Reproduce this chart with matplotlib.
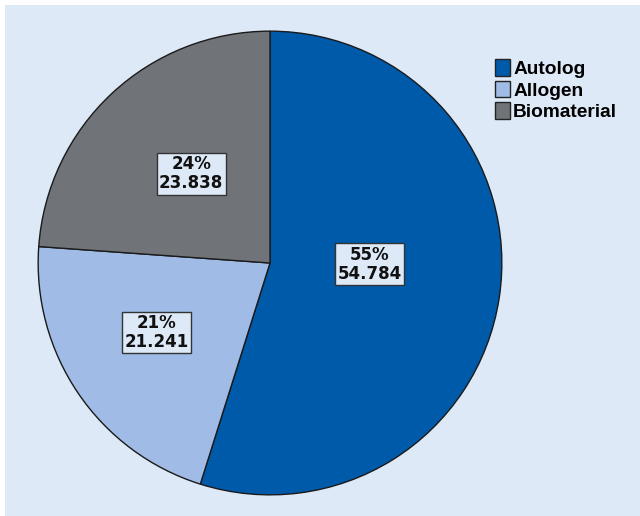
import matplotlib
matplotlib.use("Agg")
import matplotlib.pyplot as plt
from matplotlib.patches import Rectangle, Patch

categories = ["Autolog", "Allogen", "Biomaterial"]
values = [54.784, 21.241, 23.838]
pct_labels = ["55%", "21%", "24%"]
value_labels = ["54.784", "21.241", "23.838"]
colors = ["#005aaa", "#9fbbe6", "#707479"]
label_pos = [(0.43, -0.005), (-0.49, -0.30), (-0.34, 0.385)]

W, H = 640, 516
fig = plt.figure(figsize=(W / 100, H / 100), dpi=100, facecolor="white")
bg = Rectangle((5 / W, 0), 1 - 5 / W, 1 - 5 / H, transform=fig.transFigure,
               facecolor="#dde9f7", edgecolor="none", zorder=-10)
fig.patches.append(bg)

cx, cy, r = 270, 263, 233
ax = fig.add_axes([(cx - r) / W, (H - cy - r) / H, 2 * r / W, 2 * r / H])
ax.set_zorder(5)
ax.set_facecolor("none")
ax.pie(values, colors=colors, startangle=90, counterclock=False, radius=1,
       wedgeprops=dict(edgecolor="#1a1a1a", linewidth=1.0))
ax.set_xlim(-1.005, 1.005)
ax.set_ylim(-1.005, 1.005)
ax.set_aspect("equal")
ax.axis("off")

for (x, y), p, v in zip(label_pos, pct_labels, value_labels):
    ax.text(x, y, p + "\n" + v, ha="center", va="center", fontsize=12,
            fontweight="bold", family="DejaVu Sans", linespacing=1.05,
            color="#111111",
            bbox=dict(boxstyle="square,pad=0.15", facecolor="#dde9f7",
                      edgecolor="#333333", linewidth=1.0))

handles = [Patch(facecolor=c, edgecolor="#222222", linewidth=1.0) for c in colors]
leg = fig.legend(handles, categories, loc="upper left",
                 bbox_to_anchor=(495 / W, 1 - 59 / H), frameon=False,
                 handlelength=0.8, handleheight=0.95, handletextpad=0.15,
                 labelspacing=0.15, borderaxespad=0, borderpad=0,
                 prop=dict(family="Liberation Sans", weight="bold", size=13.8))
leg.set_zorder(6)

fig.savefig("out.png", dpi=100, facecolor="white")
